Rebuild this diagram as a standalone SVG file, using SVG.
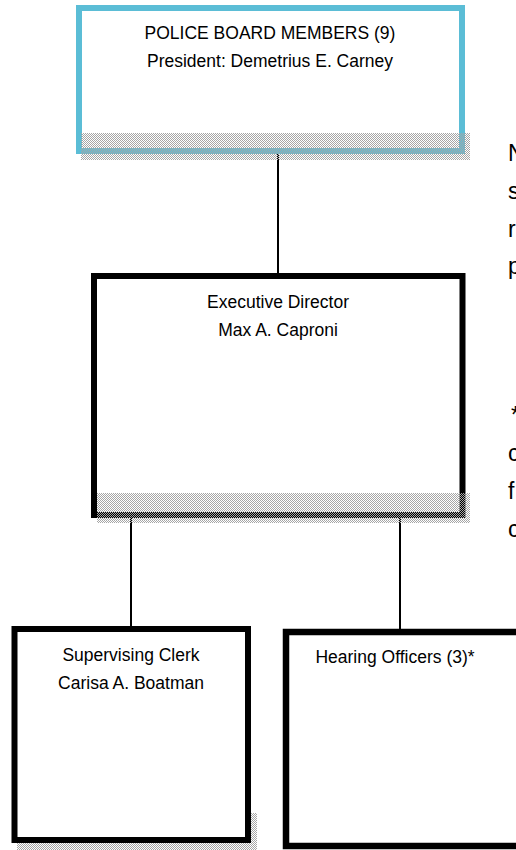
<svg xmlns="http://www.w3.org/2000/svg" width="516" height="850" viewBox="0 0 516 850">
<defs>
<pattern id="dots" width="2" height="2" patternUnits="userSpaceOnUse">
<rect x="0" y="0" width="1" height="1" fill="#a6a6a6"/>
<rect x="1" y="1" width="1" height="1" fill="#a6a6a6"/>
</pattern>
<style>
.t{font-family:"Liberation Sans",Arial,sans-serif;font-size:17.5px;fill:#000;text-anchor:middle}
.n{font-family:"Liberation Sans",Arial,sans-serif;font-size:23px;fill:#000}
.box{fill:none;stroke:#000;stroke-width:6}
.shade{fill:url(#dots)}
.conn{stroke:#000;stroke-width:2;fill:none}
</style>
</defs>
<rect width="516" height="850" fill="#fff"/>
<g id="connectors">
<line class="conn" x1="278" y1="154" x2="278" y2="274"/>
<line class="conn" x1="131" y1="518" x2="131" y2="627"/>
<line class="conn" x1="400" y1="518" x2="400" y2="630"/>
</g>
<g id="board">
<rect x="79" y="8" width="383" height="143" fill="#fff"/>
<rect x="79" y="8" width="383" height="143" fill="none" stroke="#5bbdd6" stroke-width="6"/>
<rect class="shade" x="81" y="133" width="389" height="27"/>
<text class="t" x="270" y="39">POLICE BOARD MEMBERS (9)</text>
<text class="t" x="270" y="67">President: Demetrius E. Carney</text>
</g>
<g id="director">
<rect x="94" y="276" width="368.5" height="239" fill="#fff"/>
<rect class="box" x="94" y="276" width="368.5" height="239"/>
<rect class="shade" x="97" y="493" width="373" height="30"/>
<text class="t" x="278" y="308">Executive Director</text>
<text class="t" x="278" y="336">Max A. Caproni</text>
</g>
<g id="clerk">
<rect class="shade" x="17" y="813" width="240" height="37"/>
<rect x="14.5" y="629" width="233.5" height="211" fill="#fff" stroke="#000" stroke-width="6"/>
<text class="t" x="131" y="661">Supervising Clerk</text>
<text class="t" x="131" y="689">Carisa A. Boatman</text>
</g>
<g id="hearing">
<rect x="286" y="632" width="234" height="214" fill="#fff" stroke="#000" stroke-width="6.5"/>
<text class="t" x="395" y="663">Hearing Officers (3)*</text>
</g>
<g id="note">
<text class="n" x="508" y="161">N</text>
<text class="n" x="508" y="199">s</text>
<text class="n" x="508" y="237">r</text>
<text class="n" x="508" y="274">p</text>
<text class="n" x="511" y="423">*</text>
<text class="n" x="508" y="461">c</text>
<text class="n" x="508" y="499">f</text>
<text class="n" x="508" y="537">c</text>
</g>
</svg>
